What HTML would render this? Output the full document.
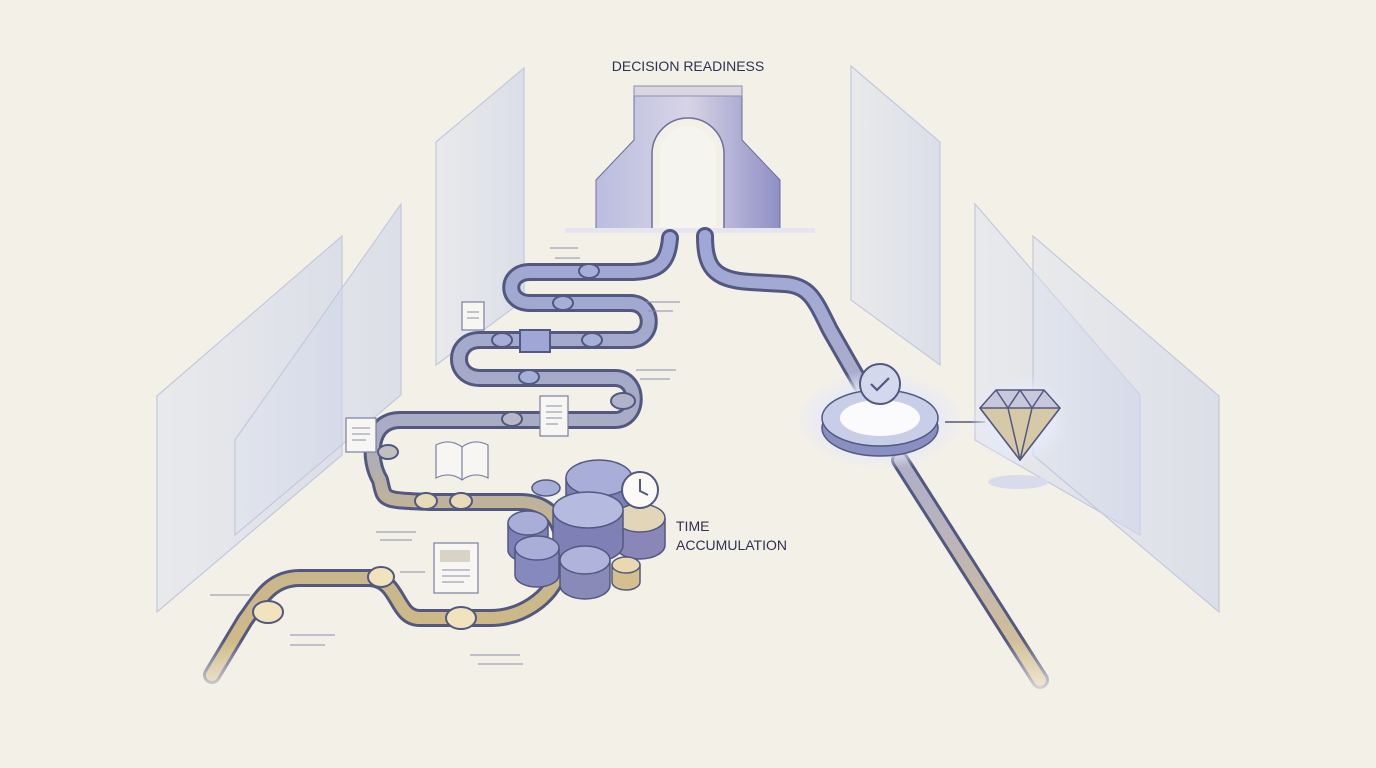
<!DOCTYPE html>
<html><head><meta charset="utf-8"><style>
html,body{margin:0;padding:0;background:#f3f0e8;}
svg{display:block}
text{font-family:"Liberation Sans",sans-serif;fill:#2c3350}
</style></head><body>
<svg width="1376" height="768" viewBox="0 0 1376 768" xmlns="http://www.w3.org/2000/svg">
<defs>
<linearGradient id="pl" x1="0" y1="0" x2="1" y2="0"><stop offset="0" stop-color="#dfe3ef" stop-opacity=".5"/><stop offset="1" stop-color="#c8d0e8" stop-opacity=".55"/></linearGradient>
<linearGradient id="arch" x1="0" y1="0" x2="1" y2="0"><stop offset="0" stop-color="#b9bde0"/><stop offset=".5" stop-color="#d8d4e6"/><stop offset="1" stop-color="#8f8fc6"/></linearGradient>
<linearGradient id="pathc" x1="0" y1="1" x2="0" y2="0"><stop offset="0" stop-color="#d2bb85"/><stop offset=".35" stop-color="#c4b48e"/><stop offset=".55" stop-color="#a9acc4"/><stop offset="1" stop-color="#9ea7d6"/></linearGradient>
<linearGradient id="rpath" x1="0" y1="0" x2="0" y2="1"><stop offset="0" stop-color="#9ea7d6"/><stop offset=".6" stop-color="#b4b1c4"/><stop offset="1" stop-color="#d8c28c"/></linearGradient>
<radialGradient id="glow"><stop offset="0" stop-color="#ffffff"/><stop offset=".6" stop-color="#e6e9f7"/><stop offset="1" stop-color="#e6e9f7" stop-opacity="0"/></radialGradient>
<linearGradient id="fade" x1="0" y1="0" x2="0" y2="1"><stop offset="0" stop-color="#f3f0e8" stop-opacity="0"/><stop offset="1" stop-color="#f3f0e8"/></linearGradient>
</defs>
<rect width="1376" height="768" fill="#f3f0e8"/>

<g stroke="#c3c8dc" stroke-width="1.2" fill="url(#pl)">
<polygon points="436,142 524,68 524,300 436,365"/>
<polygon points="157,396 342,236 342,455 157,612"/>
<polygon points="235,440 401,204 401,395 235,535"/>
<polygon points="851,66 940,142 940,365 851,300"/>
<polygon points="975,204 1140,395 1140,535 975,440"/>
<polygon points="1033,236 1219,396 1219,612 1033,455"/>
</g>

<text x="688" y="71" font-size="14" text-anchor="middle">DECISION READINESS</text>

<!-- arch -->
<polygon points="596,232 596,180 634,140 634,96 742,96 742,140 780,180 780,232" fill="url(#arch)" stroke="#6d6f9c" stroke-width="1"/>
<polygon points="634,86 742,86 742,96 634,96" fill="#d9d6e2" stroke="#8e8fb2"/>
<path d="M652,232 L652,154 A36,36 0 0 1 724,154 L724,232 Z" fill="#f3f0e8" stroke="#6d6f9c" stroke-width="1.5"/>
<path d="M660,232 L660,156 A28,30 0 0 1 716,156 L716,232 Z" fill="#f6f4ee"/>
<rect x="565" y="228" width="250" height="5" fill="#e6e4ef"/>

<g fill="none" stroke-linecap="round" stroke-linejoin="round">
<path d="M670,238 C668,262 660,272 630,272 L530,272 C505,272 505,303 530,303 L630,303 C655,303 655,340 630,340 L480,340 C452,340 452,378 480,378 L615,378 C640,378 640,420 615,420 L400,420 C368,420 368,460 380,480 C385,500 380,500 430,502 L520,502 C560,502 570,540 560,570 C550,600 520,618 490,618 L420,618 C395,618 400,580 370,578 L300,578 C270,578 260,600 245,620 L212,675" stroke="#52587f" stroke-width="18"/>
<path d="M670,238 C668,262 660,272 630,272 L530,272 C505,272 505,303 530,303 L630,303 C655,303 655,340 630,340 L480,340 C452,340 452,378 480,378 L615,378 C640,378 640,420 615,420 L400,420 C368,420 368,460 380,480 C385,500 380,500 430,502 L520,502 C560,502 570,540 560,570 C550,600 520,618 490,618 L420,618 C395,618 400,580 370,578 L300,578 C270,578 260,600 245,620 L212,675" stroke="url(#pathc)" stroke-width="12"/>
<path d="M705,236 C705,265 712,280 750,282 L785,284 C810,286 815,300 830,330 L870,400 M900,460 L1040,680" stroke="#52587f" stroke-width="18"/>
<path d="M705,236 C705,265 712,280 750,282 L785,284 C810,286 815,300 830,330 L870,400 M900,460 L1040,680" stroke="url(#rpath)" stroke-width="12"/>
</g>
<rect x="180" y="640" width="900" height="60" fill="url(#fade)"/>

<g stroke="#52587f" stroke-width="2">
<ellipse cx="589" cy="271" rx="10" ry="7" fill="#a6afd7"/>
<ellipse cx="563" cy="303" rx="10" ry="7" fill="#a6afd7"/>
<ellipse cx="592" cy="340" rx="10" ry="7" fill="#a6afd7"/>
<ellipse cx="502" cy="340" rx="10" ry="7" fill="#a6afd7"/>
<rect x="520" y="330" width="30" height="22" fill="#9ea7d6"/>
<ellipse cx="529" cy="377" rx="10" ry="7" fill="#a6afd7"/>
<ellipse cx="623" cy="401" rx="12" ry="8" fill="#b0b3c9"/>
<ellipse cx="512" cy="419" rx="10" ry="7" fill="#b8b8c8"/>
<ellipse cx="388" cy="452" rx="10" ry="7" fill="#c2bfbf"/>
<ellipse cx="426" cy="501" rx="11" ry="8" fill="#e8dcb8"/>
<ellipse cx="461" cy="501" rx="11" ry="8" fill="#e8dcb8"/>
<ellipse cx="381" cy="577" rx="13" ry="10" fill="#f0e3bd"/>
<ellipse cx="461" cy="618" rx="15" ry="11" fill="#f0e3bd"/>
<ellipse cx="268" cy="612" rx="15" ry="11" fill="#f0e3bd"/>
</g>

<g stroke="#52587f" stroke-width="1.5">
<path d="M566,478 L566,520 A33,18 0 0 0 632,520 L632,478" fill="#7d80b8"/><ellipse cx="599" cy="478" rx="33" ry="18" fill="#a9aed8"/>
<path d="M615,518 L615,545 A25,14 0 0 0 665,545 L665,518" fill="#8a86b8"/><ellipse cx="640" cy="518" rx="25" ry="14" fill="#e3d6b8"/>
<path d="M508,523 L508,550 A20,12 0 0 0 548,550 L548,523" fill="#7d80b8"/><ellipse cx="528" cy="523" rx="20" ry="12" fill="#a9aed8"/>
<path d="M553,510 L553,545 A35,18 0 0 0 623,545 L623,510" fill="#7f80b6"/><ellipse cx="588" cy="510" rx="35" ry="18" fill="#b5bae0"/>
<path d="M515,548 L515,575 A22,12 0 0 0 559,575 L559,548" fill="#8689bd"/><ellipse cx="537" cy="548" rx="22" ry="12" fill="#a9aed8"/>
<path d="M560,560 L560,585 A25,14 0 0 0 610,585 L610,560" fill="#8a8ab8"/><ellipse cx="585" cy="560" rx="25" ry="14" fill="#b0b4dc"/>
<path d="M612,565 L612,582 A14,8 0 0 0 640,582 L640,565" fill="#d6bf8e"/><ellipse cx="626" cy="565" rx="14" ry="8" fill="#ead9b0"/>
<ellipse cx="546" cy="488" rx="14" ry="8" fill="#a9aed8"/>
</g>
<circle cx="640" cy="490" r="18" fill="#fbfaf6" stroke="#52587f" stroke-width="2"/>
<path d="M640,479 L640,491 L648,495" stroke="#52587f" stroke-width="2" fill="none"/>
<text x="676" y="531" font-size="14">TIME</text>
<text x="676" y="550" font-size="14">ACCUMULATION</text>

<g fill="#f7f6f2" stroke="#7a7fa3" stroke-width="1.2">
<rect x="462" y="302" width="22" height="28"/>
<rect x="346" y="418" width="30" height="34"/>
<rect x="540" y="396" width="28" height="40"/>
<rect x="434" y="543" width="44" height="50"/>
<path d="M436,445 Q450,438 462,447 Q474,438 488,445 L488,478 Q474,471 462,480 Q450,471 436,478 Z"/>
<path d="M462,447 L462,480"/>
</g>
<rect x="440" y="550" width="30" height="12" fill="#d9d2c6"/>
<g stroke="#8a8ea8" stroke-width="1">
<path d="M550,248h28M555,258h25M645,302h35M648,311h25M636,370h40M640,379h30M376,532h40M380,540h32M210,595h40M290,635h45M290,645h35M470,655h50M478,664h45M400,572h25"/>
<path d="M467,312h12M467,318h12M352,428h18M352,434h18M352,440h14M546,406h16M546,412h16M546,418h16M546,424h12M442,570h28M442,576h28M442,582h22"/>
</g>

<ellipse cx="880" cy="420" rx="85" ry="50" fill="url(#glow)"/>
<ellipse cx="880" cy="428" rx="58" ry="28" fill="#8a8fc2" stroke="#52587f" stroke-width="1.5"/>
<ellipse cx="880" cy="418" rx="58" ry="28" fill="#c8cde8" stroke="#52587f" stroke-width="1.5"/>
<ellipse cx="880" cy="418" rx="40" ry="18" fill="#fbfbfd"/>
<circle cx="880" cy="384" r="20" fill="#d4d8ec" stroke="#52587f" stroke-width="2"/>
<path d="M871,384 l6,6 l12,-12" stroke="#52587f" stroke-width="2.2" fill="none"/>
<line x1="945" y1="422" x2="985" y2="422" stroke="#52587f" stroke-width="1.5"/>

<ellipse cx="1020" cy="420" rx="50" ry="45" fill="url(#glow)"/>
<ellipse cx="1018" cy="482" rx="30" ry="7" fill="#d8dbea"/>
<g stroke="#52587f" stroke-width="1.5" stroke-linejoin="round">
<polygon points="980,408 996,390 1044,390 1060,408 1020,460" fill="#c9c7dc"/>
<polygon points="980,408 1060,408 1020,460" fill="#d6c9a8"/>
<path d="M996,390 L1008,408 L1020,390 L1032,408 L1044,390 M1008,408 L1020,460 L1032,408" fill="none"/>
</g>
</svg>
</body></html>
